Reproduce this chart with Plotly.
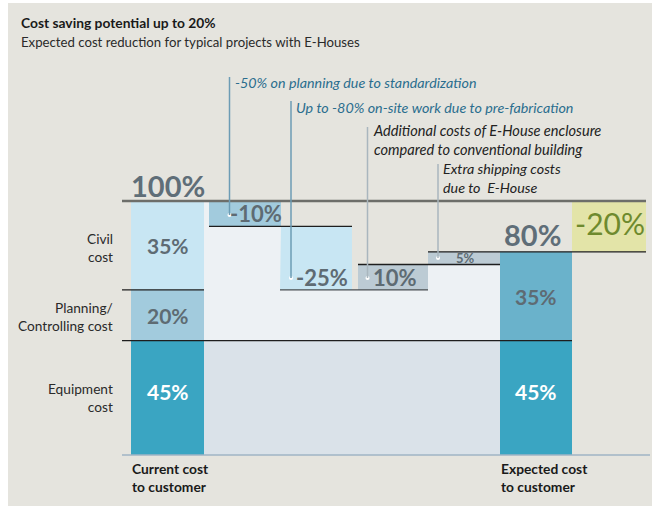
import plotly.graph_objects as go

W, H = 661, 507

# ---------------- data ----------------
current_names = ["Equipment<br>cost", "Planning/<br>Controlling cost", "Civil<br>cost"]
current_parts = [45, 20, 35]                     # % of current cost, bottom to top
step_values = [-10, -25, 10, 5]                  # changes moving to an E-House
step_notes = [
    "-50% on planning due to standardization",
    "Up to -80% on-site work due to pre-fabrication",
    "Additional costs of E-House enclosure<br>compared to conventional building",
    "Extra shipping costs<br>due to  E-House",
]
expected_parts = [45, 35]                        # % of current cost, bottom to top
saving = -20
column_names = ["Current cost<br>to customer", "Expected cost<br>to customer"]

# ---------------- layout constants ----------------
FONT = "Lato"
Y0_PX, PX_PER_PCT = 455, 2.54          # baseline pixel row and scale
def yv(py):                            # pixel row -> value on the y axis
    return (Y0_PX - py) / PX_PER_PCT

cur_edges = (131, 204)
step_edges = [(209, 281), (280, 352), (358, 428), (428, 500)]
exp_edges = (500, 572)
sav_edges = (572, 646)

cur_colors = ["#3aa5c2", "#a2cbdd", "#c8e6f3"]
step_colors = ["#a2cbdd", "#c8e6f3", "#bccbd4", "#bccbd4"]
exp_colors = ["#3aa5c2", "#6ab2cb"]
sav_color = "#e3e4a8"
label_grey = "#5e6b73"

fig = go.Figure()

def bar(edges, base, height, color):
    fig.add_trace(go.Bar(
        x=[(edges[0] + edges[1]) / 2], y=[height], base=[base],
        width=[edges[1] - edges[0]], marker=dict(color=color, line=dict(width=0)),
        hoverinfo="skip", showlegend=False))

# running totals
total_start = sum(current_parts)
levels = [total_start]
for v in step_values:
    levels.append(levels[-1] + v)
total_end = levels[-1]
step_bases = [min(levels[i], levels[i + 1]) for i in range(len(step_values))]

# area of remaining cost between the two columns
eq = current_parts[0]
px_ = [cur_edges[1], step_edges[0][0]]
py_ = [total_start, total_start]
for (a, b), base in zip(step_edges, step_bases):
    px_ += [a, b]
    py_ += [base, base]
px_ += [step_edges[-1][1], cur_edges[1]]
py_ += [eq, eq]
fig.add_trace(go.Scatter(x=px_, y=py_, fill="toself", fillcolor="#edf1f4",
                         line=dict(width=0), mode="lines", hoverinfo="skip", showlegend=False))
fig.add_trace(go.Scatter(x=[cur_edges[1], exp_edges[0], exp_edges[0], cur_edges[1]],
                         y=[0, 0, eq, eq], fill="toself", fillcolor="#dae2e9",
                         line=dict(width=0), mode="lines", hoverinfo="skip", showlegend=False))

# current cost column
base = 0
cur_bases = []
for v, c in zip(current_parts, cur_colors):
    bar(cur_edges, base, v, c)
    cur_bases.append(base)
    base += v

# steps
for (edges, b, v, c) in zip(step_edges, step_bases, step_values, step_colors):
    bar(edges, b, abs(v), c)

# expected cost column
base = 0
exp_bases = []
for v, c in zip(expected_parts, exp_colors):
    bar(exp_edges, base, v, c)
    exp_bases.append(base)
    base += v

# saving box
bar(sav_edges, total_end, -saving, sav_color)

fig.update_layout(barmode="overlay")

# ---------------- shapes ----------------
shapes = [dict(type="rect", xref="paper", yref="paper", x0=8 / W, x1=652 / W,
               y0=1 - 506 / H, y1=1 - 3 / H, fillcolor="#e5e4de", line=dict(width=0),
               layer="below")]

def hline(x0, x1, y, color="#1e1e1e", width=1.3):
    shapes.append(dict(type="line", xref="x", yref="y", x0=x0, x1=x1, y0=y, y1=y,
                       line=dict(color=color, width=width), layer="above"))

hline(122, sav_edges[1], total_start, "#6d6e6a", 2.5)
hline(122, cur_edges[1], current_parts[0] + current_parts[1])
hline(122, exp_edges[1], eq)
hline(step_edges[0][0], step_edges[1][1], step_bases[0])
hline(step_edges[1][0], step_edges[2][1], step_bases[1], "#4a4f52")
hline(step_edges[2][0], step_edges[3][1], levels[3])
hline(step_edges[3][0], sav_edges[1], total_end)
hline(122, 650, 0, "#9fb4c4", 1.5)

# leader lines and note texts
note_x = [229.5, 291, 367.5, 438]
note_top = [77, 101, 127, 164]
note_dot_py = [215, 278, 278, 258]
note_text_py = [82, 107, 140, 178]
note_colors = ["#2b6e8e", "#2b6e8e", "#222222", "#222222"]
line_colors = ["#6c9cb5", "#6c9cb5", "#a9b6be", "#a9b6be"]
note_sizes = [14.3, 14.3, 14.6, 14.3]

annotations = []
for x, top, dpy, tpy, txt, tc, lc, fs in zip(note_x, note_top, note_dot_py, note_text_py,
                                            step_notes, note_colors, line_colors, note_sizes):
    shapes.append(dict(type="line", xref="x", yref="y", x0=x, x1=x, y0=yv(top), y1=yv(dpy),
                       line=dict(color=lc, width=1.5), layer="above"))
    annotations.append(dict(x=x + 3, y=yv(tpy), xref="x", yref="y", text=txt,
                            showarrow=False, xanchor="left", yanchor="middle", align="left",
                            font=dict(family=FONT, size=fs, color=tc, style="italic")))
fig.add_trace(go.Scatter(x=note_x, y=[yv(p) for p in note_dot_py], mode="markers",
                         marker=dict(color="white", size=4), hoverinfo="skip", showlegend=False))

fig.update_layout(shapes=shapes)

def pct(v):
    return f"{v:g}%"

def label(x, y, text, size, color=label_grey, xanchor="center", weight=700):
    annotations.append(dict(x=x, y=y, xref="x", yref="y", text=text,
                            showarrow=False, xanchor=xanchor, yanchor="middle",
                            font=dict(family=FONT, size=size, color=color, weight=weight)))

# column value labels
cx = sum(cur_edges) / 2
for i, (b, v) in enumerate(zip(cur_bases, current_parts)):
    label(cx, b + v / 2 + (2.5 if i == 0 else 0), pct(v), 21,
          "white" if i == 0 else label_grey)
ex = sum(exp_edges) / 2
for i, (b, v) in enumerate(zip(exp_bases, expected_parts)):
    label(ex, b + v / 2 + (2.5 if i == 0 else 0), pct(v), 21,
          "white" if i == 0 else label_grey)

# step labels
step_label_x = [256, 322, 395, 465]
for i, (x, b, v) in enumerate(zip(step_label_x, step_bases, step_values)):
    y = b + abs(v) / 2
    if i == 1:
        y = step_bases[2] + abs(step_values[2]) / 2
    label(x, y, pct(v), 13 if abs(v) < 10 else 22)

# totals
label(cx, yv(185), pct(total_start), 29, "#5f6e78")
label(exp_edges[1] - 9, yv(234), pct(total_end), 29, "#5f6e78", xanchor="right")
label(sum(sav_edges) / 2 + 1, total_end + (-saving) / 2 + 1.5, pct(saving), 30, "#6e8a2e",
      weight=400)

# category names on the left
name_py = [397, 316, 247]
for n, p in zip(current_names, name_py):
    annotations.append(dict(x=115, y=yv(p), xref="x", yref="y", text=n, showarrow=False,
                            xanchor="right", yanchor="middle", align="right",
                            font=dict(family=FONT, size=13.7, color="#2a2a2a")))

# column names at the bottom
for x, n in zip([cur_edges[0], exp_edges[0]], column_names):
    annotations.append(dict(x=x - 1, y=yv(477), xref="x", yref="y", text=n,
                            showarrow=False, xanchor="left", yanchor="middle", align="left",
                            font=dict(family=FONT, size=13.8, color="#1a1a1a", weight=700)))

# title
annotations.append(dict(x=19 / W, y=1 - 22 / H, xref="paper", yref="paper",
                        text="Cost saving potential up to 20%", showarrow=False,
                        xanchor="left", yanchor="middle",
                        font=dict(family=FONT, size=13.8, color="#1a1a1a", weight=700)))
annotations.append(dict(x=19 / W, y=1 - 42 / H, xref="paper", yref="paper",
                        text="Expected cost reduction for typical projects with E-Houses",
                        showarrow=False, xanchor="left", yanchor="middle",
                        font=dict(family=FONT, size=13.2, color="#2a2a2a")))

fig.update_layout(
    annotations=annotations,
    width=W, height=H, margin=dict(l=0, r=0, t=0, b=0),
    paper_bgcolor="white", plot_bgcolor="rgba(0,0,0,0)",
    xaxis=dict(range=[0, W], visible=False, fixedrange=True),
    yaxis=dict(range=[yv(H), yv(0)], visible=False, fixedrange=True),
    showlegend=False,
)

fig.write_html("out.html")
